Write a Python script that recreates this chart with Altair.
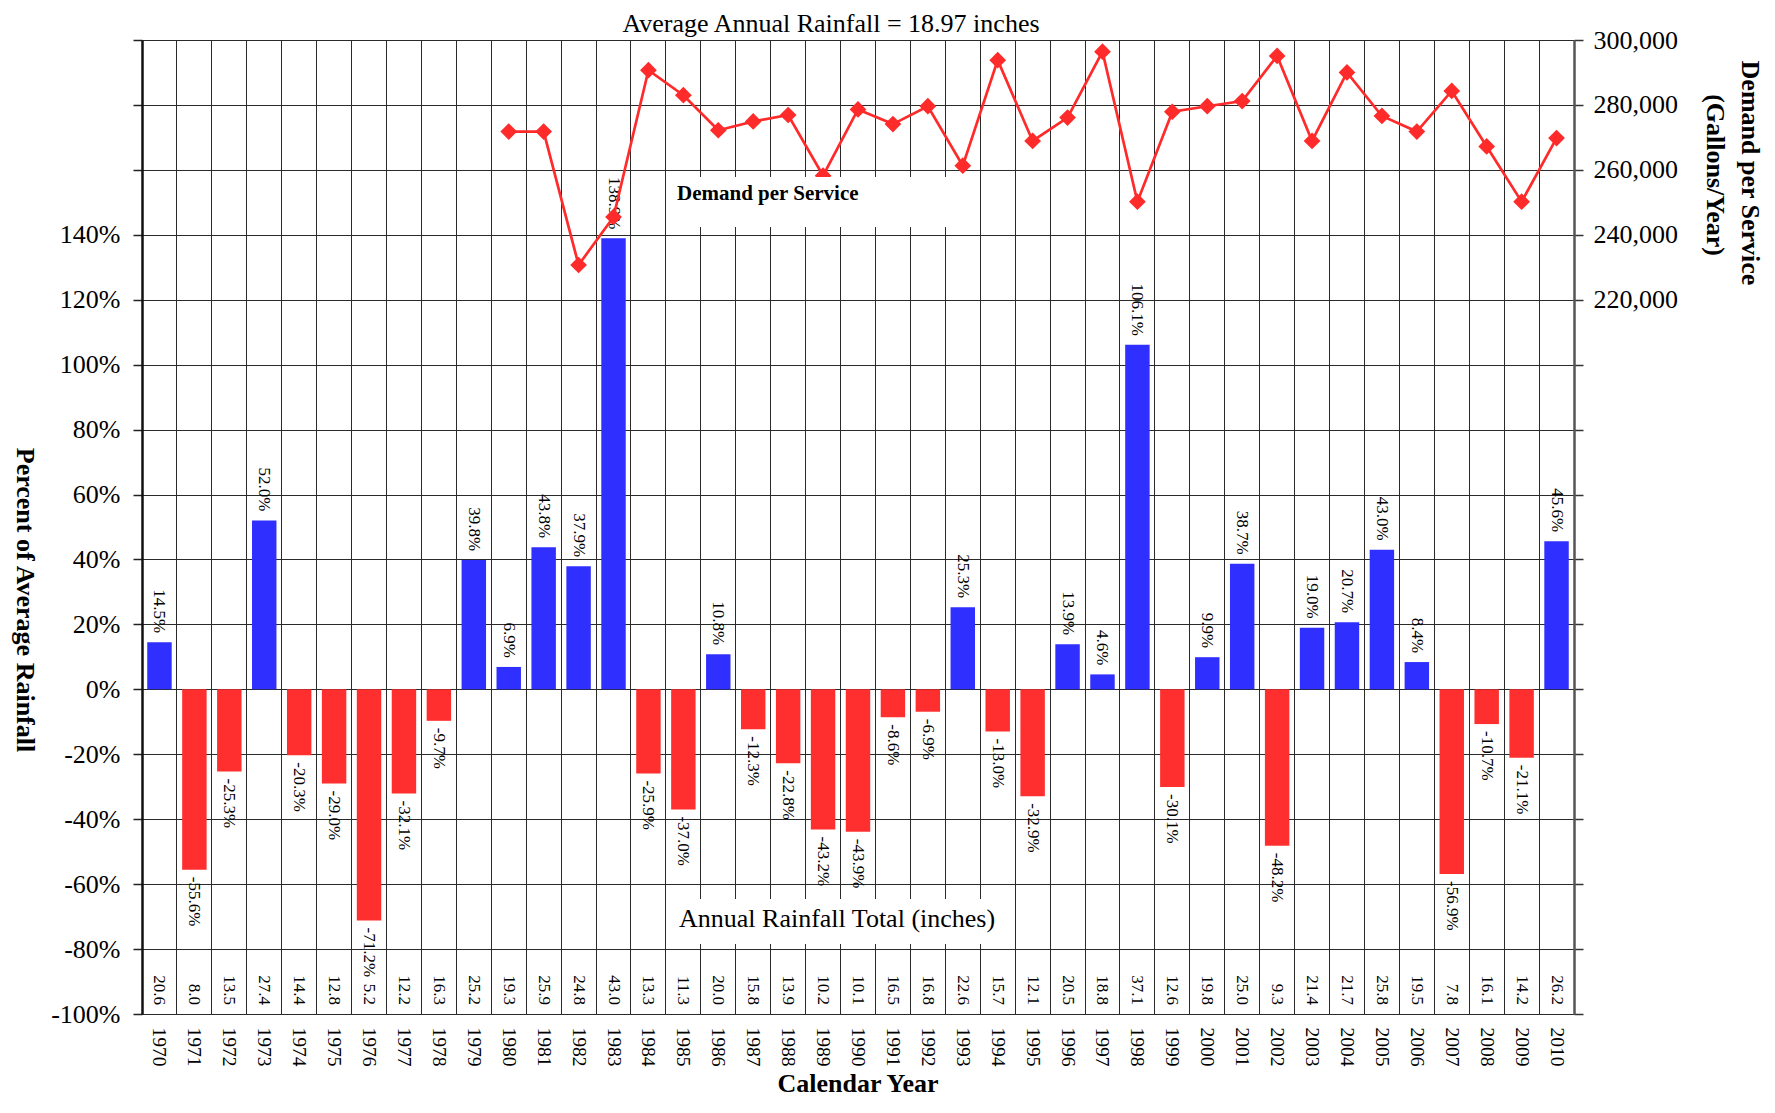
import altair as alt
import pandas as pd

# ---------------- data ----------------
years = list(range(1970, 2011))
pct_of_avg = [14.5, -55.6, -25.3, 52.0, -20.3, -29.0, -71.2, -32.1, -9.7, 39.8,
              6.9, 43.8, 37.9, 138.9, -25.9, -37.0, 10.8, -12.3, -22.8, -43.2,
              -43.9, -8.6, -6.9, 25.3, -13.0, -32.9, 13.9, 4.6, 106.1, -30.1,
              9.9, 38.7, -48.2, 19.0, 20.7, 43.0, 8.4, -56.9, -10.7, -21.1, 45.6]
rain_total = [20.6, 8.0, 13.5, 27.4, 14.4, 12.8, 5.2, 12.2, 16.3, 25.2,
              19.3, 25.9, 24.8, 43.0, 13.3, 11.3, 20.0, 15.8, 13.9, 10.2,
              10.1, 16.5, 16.8, 22.6, 15.7, 12.1, 20.5, 18.8, 37.1, 12.6,
              19.8, 25.0, 9.3, 21.4, 21.7, 25.8, 19.5, 7.8, 16.1, 14.2, 26.2]
demand_years = list(range(1980, 2011))
demand = [271800, 271800, 230700, 245500, 290700, 283000, 272200, 274900, 276900, 258200,
          278600, 274100, 279600, 261300, 293800, 268900, 276100, 296400, 250200, 277900,
          279600, 281200, 295100, 268900, 290000, 276600, 271800, 284300, 267200, 250200,
          269800]
pct_ticks = list(range(-100, 201, 20))

df = pd.DataFrame({"year": [str(y) for y in years], "pct": pct_of_avg, "rain": rain_total})
df["pct_label"] = [f"{v:.1f}%" for v in pct_of_avg]
df["rain_label"] = [f"{v:.1f}" for v in rain_total]
ddf = pd.DataFrame({"year": [str(y) for y in demand_years], "demand": demand})

FONT = "Liberation Serif"
GRID = "#2a2a2a"
xscale = alt.Scale(domain=[str(y) for y in years], paddingInner=0, paddingOuter=0)
# percent scale -100..200 ; the right (demand) axis 0..300,000 maps onto it as demand/1000 - 100
yscale = alt.Scale(domain=[-100, 200], nice=False, zero=False)

bars = alt.Chart(df).mark_bar(width=alt.RelativeBandSize(0.7)).encode(
    x=alt.X("year:O", scale=xscale,
            axis=alt.Axis(orient="top", grid=True, bandPosition=0, labels=False,
                          ticks=False, domain=False, title=None,
                          gridColor=GRID, gridWidth=1, gridOpacity=1)),
    y=alt.Y("pct:Q", scale=yscale,
            axis=alt.Axis(orient="left", values=pct_ticks,
                          labelExpr="datum.value <= 140 ? datum.value + '%' : ''",
                          grid=True, gridColor=GRID, gridWidth=1, gridOpacity=1,
                          tickSize=9, tickColor="#222222", tickWidth=1.5,
                          domainColor="#111111", domainWidth=2.5,
                          labelFont=FONT, labelFontSize=26, labelColor="black",
                          labelPadding=13, title=None)),
    y2=alt.datum(0),
    color=alt.condition("datum.pct >= 0", alt.value("#2f2fff"), alt.value("#ff2f2f")),
)

pos_lab = alt.Chart(df).transform_filter("datum.pct >= 0").mark_text(
    angle=90, align="right", baseline="middle", dx=-9, font=FONT, fontSize=17, color="black"
).encode(
    x=alt.X("year:O", scale=xscale,
            axis=alt.Axis(orient="bottom", labelAngle=90, labelAlign="left",
                          labelBaseline="middle", labelPadding=13, ticks=False,
                          domain=False, grid=False, labelFont=FONT, labelFontSize=19.5,
                          labelColor="black", title=None)),
    y=alt.Y("pct:Q", scale=yscale, axis=None),
    text="pct_label:N",
)

neg_lab = alt.Chart(df).transform_filter("datum.pct < 0").mark_text(
    angle=90, align="left", baseline="middle", dx=7, font=FONT, fontSize=17, color="black"
).encode(
    x=alt.X("year:O", scale=xscale, axis=None),
    y=alt.Y("pct:Q", scale=yscale, axis=None),
    text="pct_label:N",
)

rain_lab = alt.Chart(df).transform_calculate(base="-100").mark_text(
    angle=90, align="right", baseline="middle", dx=-9, font=FONT, fontSize=17, color="black"
).encode(
    x=alt.X("year:O", scale=xscale, axis=None),
    y=alt.Y("base:Q", scale=yscale, axis=None),
    text="rain_label:N",
)

line = alt.Chart(ddf).transform_calculate(
    dpct="datum.demand / 1000 - 100"
).mark_line(
    color="#ff2a2a", strokeWidth=2.7,
    point=alt.OverlayMarkDef(shape="diamond", size=280, filled=True, color="#ff2a2a", opacity=1),
).encode(
    x=alt.X("year:O", scale=xscale, axis=None),
    y=alt.Y("dpct:Q", scale=yscale,
            axis=alt.Axis(orient="right", values=pct_ticks,
                          labelExpr="datum.value >= 120 ? format((datum.value + 100) * 1000, ',') : ''",
                          grid=False, tickSize=9, tickColor="#333333", tickWidth=1.5,
                          domainColor="#555555", domainWidth=2.5,
                          labelFont=FONT, labelFontSize=26, labelColor="black",
                          labelPadding=10, title=None)),
)


def box(x1, x2, y1, y2):
    return alt.Chart(pd.DataFrame({"b": [0]})).mark_rect(fill="white").encode(
        x=alt.value(x1), x2=alt.value(x2), y=alt.value(y1), y2=alt.value(y2))


def txt(s, x, y, size, bold=False, angle=0, align="center", baseline="alphabetic"):
    return alt.Chart(pd.DataFrame({"t": [s]})).mark_text(
        font=FONT, fontSize=size, fontWeight="bold" if bold else "normal",
        angle=angle, align=align, baseline=baseline, color="black"
    ).encode(x=alt.value(x), y=alt.value(y), text="t:N")


box1 = box(527, 838, 137, 187)
box2 = box(527, 872, 859, 904)
t_title = txt("Average Annual Rainfall = 18.97 inches", 689, -8, 26)
t_dps = txt("Demand per Service", 535, 160, 21, bold=True, align="left")
t_art = txt("Annual Rainfall Total (inches)", 537, 887, 26, align="left")
t_left = txt("Percent of Average Rainfall", -117, 560, 26, bold=True, angle=90, baseline="middle")
t_r1 = txt("Demand per Service", 1608, 133, 26, bold=True, angle=90, baseline="middle")
t_r2 = txt("(Gallons/Year)", 1573, 135, 26, bold=True, angle=90, baseline="middle")
t_cal = txt("Calendar Year", 716, 1052, 26, bold=True)

chart = alt.layer(
    bars, pos_lab, neg_lab, rain_lab, line, box1, box2,
    t_title, t_dps, t_art, t_left, t_r1, t_r2, t_cal
).properties(
    width=1432, height=974,
    autosize=alt.AutoSizeParams(type="none"),
    padding={"left": 134, "top": 32, "right": 193, "bottom": 84},
).configure_view(stroke="#8a8a8a", strokeWidth=3).configure(background="white")

chart.save("out.html", embed_options={"renderer": "svg", "actions": False})
